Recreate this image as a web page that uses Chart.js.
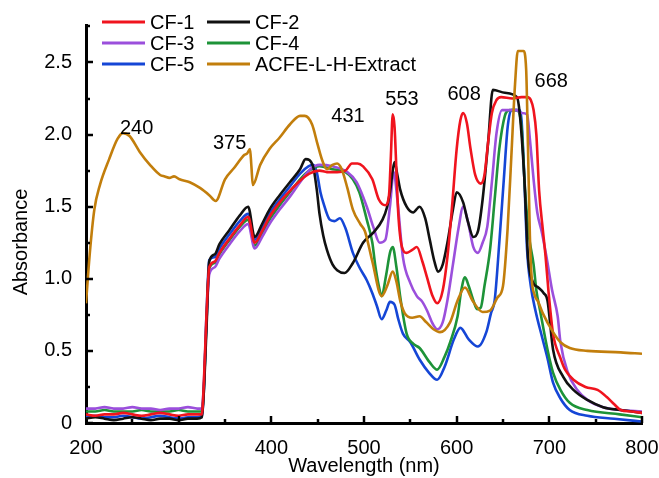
<!DOCTYPE html>
<html>
<head>
<meta charset="utf-8">
<script src="https://cdn.jsdelivr.net/npm/chart.js@4.4.1/dist/chart.umd.min.js"></script>
<style>
  html, body { margin:0; padding:0; background:#fff; }
</style>
</head>
<body>
<canvas id="uv" width="659" height="478"></canvas>
<script>
const FONT = "'Liberation Sans', Arial, Helvetica, sans-serif";

const seriesNames  = ['CF-1', 'CF-2', 'CF-3', 'CF-4', 'CF-5', 'ACFE-L-H-Extract'];
const seriesColors = ['#f0141e', '#111111', '#9b4fdc', '#1d9338', '#1546d6', '#c27e0c'];

// CF-1 (red)
const cf1Wl  = [200,210,220,230,240,250,260,270,280,290,300,310,320,325,327,330,333,339,344,355,366,375,382,390,398,409,420,431,441,452,460,471,480,487,493,499,509,516,523,527,529,531,533,535,537,541,546,552,557,563,568,574,579,585,590,595,600,604,607,611,615,620,626,630,634,638,643,648,660,670,676,680,683,686,689,693,696,699,704,712,717,726,739,752,762,770,777,788,800];
const cf1Abs = [.06,.05,.06,.06,.07,.06,.05,.06,.07,.06,.05,.06,.06,.06,.25,.75,1.08,1.12,1.18,1.28,1.37,1.43,1.25,1.33,1.43,1.53,1.61,1.68,1.73,1.75,1.74,1.74,1.75,1.80,1.80,1.78,1.69,1.55,1.51,1.58,1.85,2.14,2.05,1.75,1.45,1.22,1.18,1.20,1.22,1.12,1.01,.88,.83,.92,1.15,1.50,1.90,2.10,2.15,2.08,1.90,1.72,1.66,1.72,1.95,2.15,2.24,2.26,2.25,2.26,2.26,2.24,2.17,2.00,1.61,1.34,1.15,.92,.62,.45,.37,.30,.25,.23,.18,.13,.09,.08,.07];

// CF-2 (black)
const cf2Wl  = [200,210,220,230,240,250,260,270,280,290,300,310,320,325,327,330,333,339,344,355,366,375,382,390,398,409,420,431,437,445,449,452,456,460,466,471,479,488,499,510,520,525,528,531,533,536,539,546,553,560,566,571,576,580,585,590,596,600,607,612,618,623,628,634,639,652,665,668,673,677,682,688,694,698,704,715,726,741,758,777,800];
const cf2Abs = [.03,.04,.03,.02,.03,.04,.03,.02,.03,.03,.02,.03,.03,.04,.20,.65,1.12,1.17,1.24,1.34,1.44,1.50,1.29,1.38,1.48,1.58,1.67,1.76,1.83,1.78,1.62,1.45,1.30,1.20,1.10,1.06,1.04,1.11,1.25,1.32,1.41,1.50,1.60,1.75,1.81,1.72,1.62,1.50,1.46,1.50,1.42,1.27,1.12,1.05,1.10,1.25,1.48,1.60,1.53,1.40,1.29,1.33,1.55,1.95,2.31,2.29,2.26,2.15,1.70,1.15,.98,.94,.90,.85,.51,.32,.23,.16,.11,.09,.07];

// CF-3 (purple)
const cf3Wl  = [200,210,220,230,240,250,260,270,280,290,300,310,320,325,327,330,333,339,344,355,366,375,382,390,398,409,420,431,442,452,466,482,492,503,510,517,523,528,532,536,542,550,557,563,568,574,579,585,590,596,602,607,612,618,623,628,633,638,643,649,665,669,676,679,683,687,692,697,703,709,712,720,730,741,758,777,800];
const cf3Abs = [.10,.10,.11,.10,.10,.11,.10,.10,.09,.10,.10,.11,.10,.10,.25,.70,1.03,1.08,1.14,1.24,1.33,1.38,1.21,1.29,1.38,1.48,1.57,1.67,1.76,1.79,1.78,1.74,1.67,1.50,1.36,1.25,1.27,1.50,1.74,1.55,1.15,.97,.88,.84,.78,.69,.65,.70,.85,1.10,1.35,1.50,1.40,1.22,1.18,1.25,1.36,1.67,2.01,2.17,2.17,2.15,2.14,1.97,1.69,1.46,1.32,1.15,.92,.74,.56,.35,.23,.16,.11,.09,.08];

// CF-4 (green)
const cf4Wl  = [200,210,220,230,240,250,260,270,280,290,300,310,320,325,327,330,333,339,344,355,366,375,382,390,398,409,420,431,441,452,466,480,488,495,503,509,512,516,519,524,528,531,535,539,546,553,560,571,579,587,593,601,605,609,613,618,622,626,630,636,641,646,652,657,665,670,674,678,683,686,690,698,704,712,722,741,776,800];
const cf4Abs = [.08,.08,.09,.08,.08,.08,.09,.08,.08,.08,.09,.08,.08,.08,.22,.70,1.07,1.11,1.17,1.27,1.36,1.41,1.23,1.31,1.41,1.51,1.60,1.69,1.75,1.78,1.76,1.74,1.69,1.60,1.41,1.25,1.10,.95,.88,1.03,1.18,1.22,1.08,.88,.62,.55,.52,.42,.37,.46,.56,.74,.92,1.01,.95,.85,.79,.80,.95,1.20,1.55,1.90,2.13,2.17,2.17,2.05,1.60,1.30,1.10,.92,.78,.51,.35,.23,.14,.09,.06,.04];

// CF-5 (blue)
const cf5Wl  = [200,210,220,230,240,250,260,270,280,290,300,310,320,325,327,330,333,339,344,355,366,375,382,390,398,409,420,431,440,445,449,453,456,463,468,474,480,488,495,503,509,514,519,524,528,533,537,542,550,560,570,579,587,597,604,613,623,632,637,641,646,651,655,659,668,670,673,676,680,685,692,698,704,712,722,741,770,800];
const cf5Abs = [.04,.05,.04,.04,.05,.04,.03,.04,.05,.04,.03,.04,.04,.05,.20,.75,1.13,1.15,1.21,1.31,1.40,1.45,1.27,1.35,1.45,1.55,1.64,1.73,1.78,1.79,1.74,1.60,1.53,1.41,1.40,1.42,1.35,1.18,1.08,.99,.90,.81,.72,.78,.84,.82,.72,.62,.56,.44,.35,.30,.39,.58,.66,.58,.53,.63,.76,.85,1.25,1.70,2.05,2.17,2.17,2.10,1.70,1.20,.95,.78,.60,.45,.28,.17,.09,.05,.03,.01];

// ACFE-L-H-Extract (ochre)
const acfeWl  = [200,204,209,215,225,234,240,247,258,269,280,285,290,295,301,312,323,333,340,350,360,371,374,377,378.5,380,388,398,409,420,431,436,444,450,455,460,466,471,476,482,488,496,501,509,519,525,531,535,539,544,552,560,567,575,582,593,601,609,617,628,636,644,650,655,659,663,666,672,675,677,679,681,684,688,693,704,712,722,741,777,800];
const acfeAbs = [.83,1.17,1.48,1.65,1.83,1.97,2.01,1.99,1.88,1.79,1.72,1.71,1.70,1.71,1.69,1.67,1.63,1.58,1.54,1.69,1.77,1.86,1.87,1.90,1.78,1.65,1.79,1.90,1.98,2.07,2.13,2.13,2.07,1.93,1.82,1.76,1.79,1.80,1.76,1.63,1.48,1.38,1.33,1.12,.88,.95,1.05,.98,.85,.76,.73,.74,.70,.65,.63,.70,.85,.94,.85,.77,.78,.87,.95,1.35,1.85,2.35,2.58,2.58,2.45,1.90,1.30,1.00,.89,.84,.76,.63,.56,.52,.50,.49,.48];

const xTicks = [200, 300, 400, 500, 600, 700, 800];
const yTicks = [0, 0.5, 1, 1.5, 2, 2.5];

// peak annotations
const peakText = ['240', '375', '431', '553', '608', '668'];
const peakWl   = [254.6, 355, 482.7, 541, 608, 702];
const peakAbs  = [2.04, 1.94, 2.125, 2.245, 2.28, 2.37];

const seriesWl  = [cf1Wl, cf2Wl, cf3Wl, cf4Wl, cf5Wl, acfeWl];
const seriesAbs = [cf1Abs, cf2Abs, cf3Abs, cf4Abs, cf5Abs, acfeAbs];
const drawOrder = [1, 2, 3, 4, 5, 0];

const datasets = seriesNames.map((name, i) => ({
  label: name,
  data: seriesWl[i].map((x, k) => ({ x, y: seriesAbs[i][k] })),
  borderColor: seriesColors[i],
  backgroundColor: seriesColors[i],
  borderWidth: 2.6,
  pointRadius: 0,
  cubicInterpolationMode: 'monotone',
  order: drawOrder[i],
}));

const decor = {
  id: 'decor',
  afterDraw(chart) {
    const ctx = chart.ctx;
    const xs = chart.scales.x, ys = chart.scales.y;
    const area = chart.chartArea;
    ctx.save();
    // inner tick marks
    ctx.strokeStyle = '#000';
    ctx.lineWidth = 2.5;
    for (let v = 0; v <= 2.76; v += 0.25) {
      const py = Math.round(ys.getPixelForValue(v));
      const len = Math.abs(v / 0.5 - Math.round(v / 0.5)) < 1e-6 ? 7 : 4;
      ctx.beginPath(); ctx.moveTo(area.left, py); ctx.lineTo(area.left + len, py); ctx.stroke();
    }
    for (let v = 250; v <= 800; v += 50) {
      const px = Math.round(xs.getPixelForValue(v));
      const len = v % 100 === 0 ? 7 : 4;
      ctx.beginPath(); ctx.moveTo(px, area.bottom); ctx.lineTo(px, area.bottom - len); ctx.stroke();
    }
    // peak labels
    ctx.fillStyle = '#000';
    ctx.font = '20px ' + FONT;
    ctx.textAlign = 'center';
    ctx.textBaseline = 'middle';
    peakText.forEach((t, i) => {
      ctx.fillText(t, xs.getPixelForValue(peakWl[i]), ys.getPixelForValue(peakAbs[i]));
    });
    // y axis title
    ctx.save();
    ctx.translate(21, 242);
    ctx.rotate(-Math.PI / 2);
    ctx.fillText('Absorbance', 0, 0);
    ctx.restore();
    // legend, 2 columns x 3 rows
    const colX = [102, 207];
    const rowY = [22, 43, 64];
    ctx.textAlign = 'left';
    chart.data.datasets.forEach((ds, i) => {
      const x = colX[i % 2], y = rowY[Math.floor(i / 2)];
      ctx.strokeStyle = ds.borderColor;
      ctx.lineWidth = 3;
      ctx.beginPath(); ctx.moveTo(x, y); ctx.lineTo(x + 43, y); ctx.stroke();
      ctx.fillStyle = '#000';
      ctx.fillText(ds.label, x + 48, y + 1);
    });
    ctx.restore();
  }
};

new Chart(document.getElementById('uv'), {
  type: 'line',
  data: { datasets },
  options: {
    responsive: false,
    animation: false,
    layout: { padding: { left: 0, right: 17, top: 25, bottom: 0 } },
    plugins: { legend: { display: false }, tooltip: { enabled: false } },
    scales: {
      x: {
        type: 'linear',
        min: 200, max: 800,
        afterFit: s => { s.height = 55; s.paddingLeft = 0; s.paddingRight = 0; },
        afterBuildTicks: s => { s.ticks = xTicks.map(v => ({ value: v })); },
        grid: { display: false, drawTicks: false },
        border: { display: true, color: '#000', width: 3 },
        ticks: { color: '#000', font: { family: FONT, size: 20 }, padding: 13, maxRotation: 0 },
        title: { display: true, text: 'Wavelength (nm)', color: '#000', font: { family: FONT, size: 20 }, padding: { top: 0, bottom: 0 } }
      },
      y: {
        type: 'linear',
        min: 0, max: 2.76,
        afterFit: s => { s.width = 86; s.paddingTop = 0; s.paddingBottom = 0; },
        afterBuildTicks: s => { s.ticks = yTicks.map(v => ({ value: v })); },
        grid: { display: false, drawTicks: false },
        border: { display: true, color: '#000', width: 3 },
        ticks: { color: '#000', font: { family: FONT, size: 20 }, padding: 14,
                 callback: v => v === 0 ? '0' : v.toFixed(1) }
      }
    }
  },
  plugins: [decor]
});
</script>
</body>
</html>
